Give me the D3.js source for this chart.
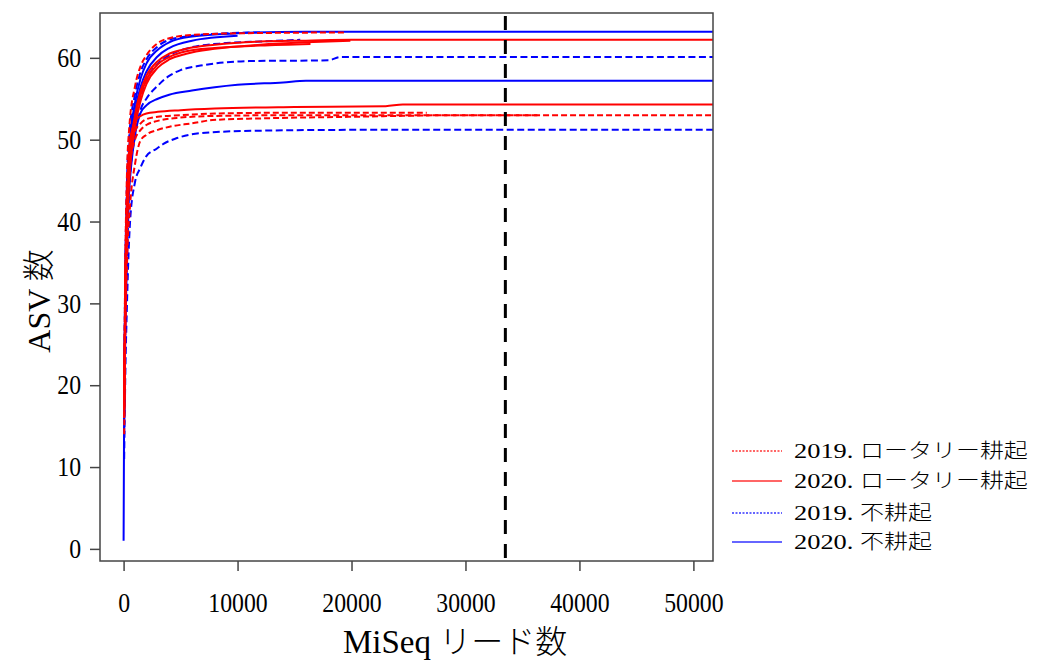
<!DOCTYPE html>
<html>
<head>
<meta charset="utf-8">
<script src="https://cdn.jsdelivr.net/npm/d3@7"></script>
<style>
  body { margin: 0; background: #fff; }
  svg { display: block; }
</style>
</head>
<body>
<div id="chart"></div>
<script>
// legend / group labels
const groups = ["2019. ロータリー耕起", "2020. ロータリー耕起", "2019. 不耕起", "2020. 不耕起"];

const xTicks = [0, 10000, 20000, 30000, 40000, 50000];
const yTicks = [0, 10, 20, 30, 40, 50, 60];

// rarefaction depth used (vertical line)
const cutoff = 33500;

// [reads, ASV]
// 2019 rotary
const r19a = [[50,20],[150,35],[300,46],[500,51.5],[1000,56.5],[1500,59],[2000,60.3],[3000,61.8],[4000,62.4],[6000,62.8],[10000,63.0],[19500,63.1]];
const r19b = [[50,17],[150,31],[300,41],[570,48.5],[1000,51],[1500,52],[2000,52.5],[3000,52.8],[5000,53.0],[8000,53.2],[15000,53.3],[26600,53.3]];
const r19c = [[50,16],[150,29],[300,39],[570,47],[1000,50],[1500,51.2],[2000,51.8],[3000,52.3],[5000,52.7],[8000,52.9],[15000,53.0],[36400,53.0]];
const r19d = [[50,14],[150,26],[300,35],[570,42],[1000,47],[1450,49.8],[2000,50.6],[3000,51.2],[4100,51.6],[6000,52.0],[7800,52.4],[12000,52.6],[20000,52.8],[30000,53.0],[55000,53.0]];
// 2020 rotary
const r20a = [[50,17],[150,31],[300,41],[500,47],[1000,53],[1500,56],[2000,57.8],[3000,59.6],[4000,60.5],[5500,61.1],[8000,61.6],[12000,62.0],[16000,62.1],[20000,62.2],[55000,62.2]];
const r20b = [[50,16],[150,29],[300,39],[500,45],[1000,51.5],[1500,54.8],[2000,56.8],[3000,58.8],[4000,59.8],[5500,60.5],[8000,61.1],[12000,61.6],[16000,61.9],[19900,62.1]];
const r20c = [[50,17],[150,31],[300,41],[500,47],[1000,52.5],[1500,55.5],[2000,57.3],[3000,59.2],[4000,60.1],[5500,60.8],[8000,61.2],[12000,61.5],[16400,61.7]];
const r20d = [[50,18],[150,33],[300,43],[570,50],[1000,52.2],[1500,52.9],[2000,53.2],[3000,53.4],[5000,53.6],[8000,53.8],[15000,54.0],[23000,54.1],[24500,54.3],[55000,54.3]];
// 2019 no-till
const b19a = [[50,19],[150,34],[300,45],[500,50.5],[1000,55.5],[1500,58.3],[2000,59.8],[3000,61.4],[4000,62.2],[6000,62.7],[9000,63.0],[12000,63.1]];
const b19b = [[50,16],[150,30],[300,40],[500,46],[1000,52],[1500,55.3],[2000,57.3],[3000,59.3],[4000,60.3],[6000,61.3],[9000,61.8],[12000,62.0],[15500,62.2]];
const b19c = [[50,14],[150,26],[300,35],[500,44],[1000,50.5],[1500,53.7],[2000,55.0],[3000,56.6],[4000,57.8],[5000,58.5],[7000,59.1],[11000,59.6],[18000,59.7],[19000,60.1],[55000,60.1]];
const b19d = [[50,11],[150,21],[300,30],[570,40],[1000,44.8],[1450,46.5],[2000,48.0],[2900,48.9],[3500,49.5],[4700,50.2],[7600,50.9],[12000,51.1],[20000,51.2],[55000,51.2]];
// 2020 no-till
const b20a = [[1,1],[50,18],[150,33],[300,43],[500,49],[1000,54.5],[1500,57.5],[2000,59.3],[3000,61.0],[4000,61.9],[6000,62.6],[10000,63.0],[16000,63.2],[55000,63.2]];
const b20b = [[50,17],[150,30],[300,39],[500,44],[1000,50.5],[1500,53.3],[2000,54.2],[3000,55.0],[4000,55.5],[6000,56.0],[8000,56.4],[10000,56.7],[14000,57.0],[16000,57.2],[55000,57.2]];
const b20c = [[50,17],[150,32],[300,42],[500,48],[1000,53.5],[1500,56.5],[2000,58.3],[3000,60.2],[4000,61.2],[6000,62.1],[10000,62.7]];

// group index -> curves (drawing order: blue first, red on top)
const curves = [
  {g: 2, pts: b19a}, {g: 2, pts: b19b}, {g: 2, pts: b19c}, {g: 2, pts: b19d},
  {g: 3, pts: b20a}, {g: 3, pts: b20b}, {g: 3, pts: b20c},
  {g: 1, pts: r20a}, {g: 1, pts: r20b}, {g: 1, pts: r20c}, {g: 1, pts: r20d},
  {g: 0, pts: r19a}, {g: 0, pts: r19b}, {g: 0, pts: r19c}, {g: 0, pts: r19d}
];

const W = 1039, H = 663;
const plot = {left: 100, right: 713, top: 13, bottom: 561};
const colors = ["#ff0000", "#ff0000", "#0000ff", "#0000ff"];
const dashes = ["6,3", null, "7,3.5", null];
const serif = "'Liberation Serif', 'Times New Roman', serif";
const cjk = "'Noto Sans CJK JP', sans-serif";
const squeeze = 0.88; // tick labels are narrow in the original

const svg = d3.select("#chart").append("svg")
  .attr("width", W).attr("height", H);
svg.append("rect").attr("width", W).attr("height", H).attr("fill", "#fff");

const x = d3.scaleLinear().domain([-2070, 51720]).range([plot.left, plot.right]);
const y = d3.scaleLinear().domain([-1.48, 65.48]).range([plot.bottom, plot.top]);

svg.append("clipPath").attr("id", "clip")
  .append("rect")
  .attr("x", plot.left).attr("y", plot.top)
  .attr("width", plot.right - plot.left).attr("height", plot.bottom - plot.top);

const line = d3.line()
  .x(d => x(d[0]))
  .y(d => y(d[1]))
  .curve(d3.curveMonotoneX);

const lines = svg.append("g").attr("clip-path", "url(#clip)");

lines.selectAll("path.curve")
  .data(curves)
  .join("path")
  .attr("class", "curve")
  .attr("d", d => line(d.pts))
  .attr("fill", "none")
  .attr("stroke", d => colors[d.g])
  .attr("stroke-width", 2)
  .attr("stroke-dasharray", d => dashes[d.g]);

// cutoff line
lines.append("line")
  .attr("x1", x(cutoff)).attr("x2", x(cutoff))
  .attr("y1", plot.top).attr("y2", plot.bottom)
  .attr("stroke", "#000")
  .attr("stroke-width", 3)
  .attr("stroke-dasharray", "14,10")
  .attr("stroke-dashoffset", 21);

// box
svg.append("rect")
  .attr("x", plot.left).attr("y", plot.top)
  .attr("width", plot.right - plot.left).attr("height", plot.bottom - plot.top)
  .attr("fill", "none")
  .attr("stroke", "#444")
  .attr("stroke-width", 1.5);

// axes
const xAxis = svg.append("g")
  .attr("transform", `translate(0,${plot.bottom})`)
  .call(d3.axisBottom(x).tickValues(xTicks).tickFormat(d3.format("d")).tickSize(10).tickPadding(22));
const yAxis = svg.append("g")
  .attr("transform", `translate(${plot.left},0)`)
  .call(d3.axisLeft(y).tickValues(yTicks).tickSize(10).tickPadding(9));

[xAxis, yAxis].forEach(a => {
  a.attr("font-family", serif).attr("font-size", 27);
  a.select(".domain").remove();
  a.selectAll(".tick line").attr("stroke", "#444").attr("stroke-width", 1.5);
  a.selectAll(".tick text")
    .attr("fill", "#000")
    .attr("font-family", serif)
    .attr("font-size", 27)
    .attr("transform", `scale(${squeeze},1)`);
});
yAxis.selectAll(".tick text").attr("x", -19 / squeeze);

// mixed latin / japanese text: serif for the latin part, gothic for the rest
function mixedText(sel, latin, jp, latinSize, jpSize) {
  sel.append("tspan").attr("font-family", serif).attr("font-size", latinSize).text(latin + " ");
  sel.append("tspan").attr("font-family", cjk).attr("font-weight", 300).attr("font-size", jpSize).text(jp);
}

// axis titles (R centres CJK strings a bit off, so anchor at the start)
svg.append("text")
  .attr("x", 343).attr("y", 653)
  .call(mixedText, "MiSeq", "リード数", 33, 32);

svg.append("text")
  .attr("transform", "translate(50,301) rotate(-90)")
  .attr("text-anchor", "middle")
  .call(mixedText, "ASV", "数", 32, 32);

// legend (text is drawn a little wider than tall, as in the original)
const legend = svg.append("g");
const rowY = [451, 481, 513, 542];
const items = legend.selectAll("g.item")
  .data(groups)
  .join("g")
  .attr("class", "item")
  .attr("transform", (d, i) => `translate(0,${rowY[i]})`);

items.append("line")
  .attr("x1", 732).attr("x2", 782)
  .attr("stroke", (d, i) => colors[i])
  .attr("stroke-opacity", 0.8)
  .attr("stroke-width", 1.3)
  .attr("stroke-dasharray", (d, i) => dashes[i] ? "2,1.5" : null);

items.append("text")
  .attr("transform", "translate(794,7) scale(1.2,1)")
  .each(function (d) {
    const [yr, ...rest] = d.split(" ");
    d3.select(this).call(mixedText, yr, rest.join(" "), 22, 20);
  });
</script>
</body>
</html>
